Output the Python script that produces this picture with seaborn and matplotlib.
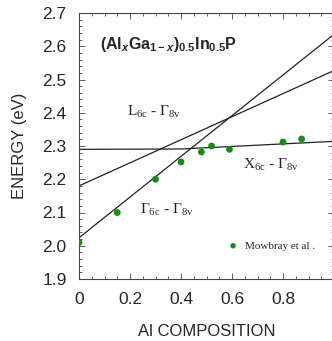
import numpy as np
import pandas as pd
import matplotlib
matplotlib.use("Agg")
import matplotlib.pyplot as plt
import seaborn as sns
from matplotlib.ticker import MultipleLocator, FormatStrFormatter

# Band-gap transitions of (AlxGa1-x)0.5In0.5P vs Al composition
gap_names = ["Gamma", "L"]
gap_intercepts = [2.024, 2.180]   # eV at x = 0
gap_slopes = [0.612, 0.347]       # eV per unit x

# X-valley gap read as a short polyline
x_line_x = [0.0, 0.40, 1.0]
x_line_E = [2.290, 2.291, 2.314]

# Mowbray et al. measurements
mow_x = [0.0, 0.15, 0.30, 0.40, 0.48, 0.52, 0.59, 0.80, 0.873]
mow_E = [2.010, 2.100, 2.200, 2.252, 2.282, 2.300, 2.290, 2.312, 2.321]

x_ticks = [0, 0.2, 0.4, 0.6, 0.8, 1.0]
x_tick_labels = ["0", "0.2", "0.4", "0.6", "0.8", ""]

sns.set_style("ticks")
plt.rcParams.update({
    "font.family": ["Liberation Sans", "DejaVu Sans"],
    "mathtext.fontset": "custom",
    "mathtext.rm": "Liberation Serif",
    "mathtext.it": "Liberation Sans:italic:bold",
    "mathtext.bf": "Liberation Sans:bold",
})

rows = []
xg = np.array([0.0, 1.0])
for name, b, m in zip(gap_names, gap_intercepts, gap_slopes):
    for xv in xg:
        rows.append({"gap": name, "x": xv, "E": b + m * xv})
for xv, ev in zip(x_line_x, x_line_E):
    rows.append({"gap": "X", "x": xv, "E": ev})
lines = pd.DataFrame(rows)
pts = pd.DataFrame({"x": mow_x, "E": mow_E})

fig = plt.figure(figsize=(3.32, 3.41), dpi=100)
ax = fig.add_axes([79 / 332, 62 / 341, 255 / 332, 266 / 341])

sns.lineplot(data=lines, x="x", y="E", units="gap", estimator=None,
             color="#222222", lw=0.9, legend=False, ax=ax)
sns.scatterplot(data=pts, x="x", y="E", color="#148c1a", s=24,
                edgecolor="none", label="Mowbray et al .", zorder=3, ax=ax)

ax.set_xlim(0, 1)
ax.set_ylim(1.9, 2.7)
ax.set_xticks(x_ticks)
ax.set_xticklabels(x_tick_labels)
ax.xaxis.set_minor_locator(MultipleLocator(0.05))
ax.yaxis.set_major_locator(MultipleLocator(0.1))
ax.yaxis.set_minor_locator(MultipleLocator(0.02))
ax.yaxis.set_major_formatter(FormatStrFormatter("%.1f"))

for sp in ax.spines.values():
    sp.set_visible(True)
    sp.set_color("#444444")
    sp.set_linewidth(0.8)
ax.tick_params(which="both", direction="in", top=True, right=True,
               color="#444444", width=0.6)
ax.tick_params(which="major", length=4, labelsize=12.5)
ax.tick_params(axis="y", which="major", pad=9)
ax.tick_params(axis="x", which="major", pad=9)
ax.tick_params(which="minor", length=2)

ax.set_xlabel("Al COMPOSITION", fontsize=12)
ax.set_ylabel("ENERGY (eV)", fontsize=12)
ax.xaxis.set_label_coords(0.5, -0.168)
ax.yaxis.set_label_coords(-0.204, 0.5)

ax.text(0.082, 2.604,
        r"$\mathbf{(Al}_{\mathit{x}}\mathbf{Ga}_{\mathbf{1-}\mathit{x}}"
        r"\mathbf{)}_{\mathbf{0.5}}\mathbf{In}_{\mathbf{0.5}}\mathbf{P}$",
        fontsize=11.5, va="center", ha="left")

serif = "Liberation Serif"
ax.text(0.19, 2.403, r"$\mathrm{L}_{\mathrm{6c}}$ - $\mathrm{\Gamma}_{\mathrm{8v}}$",
        family=serif, fontsize=11, va="center", ha="left")
ax.text(0.645, 2.244, r"$\mathrm{X}_{\mathrm{6c}}$ - $\mathrm{\Gamma}_{\mathrm{8v}}$",
        family=serif, fontsize=11, va="center", ha="left")
ax.text(0.24, 2.108, r"$\mathrm{\Gamma}_{\mathrm{6c}}$ - $\mathrm{\Gamma}_{\mathrm{8v}}$",
        family=serif, fontsize=11, va="center", ha="left")

ax.legend(loc="center left", bbox_to_anchor=(0.578, 0.125), frameon=False,
          prop={"family": serif, "size": 8}, handletextpad=0.5,
          borderpad=0, borderaxespad=0, handlelength=1.2, markerscale=0.8)

fig.savefig("out.png", dpi=100)
